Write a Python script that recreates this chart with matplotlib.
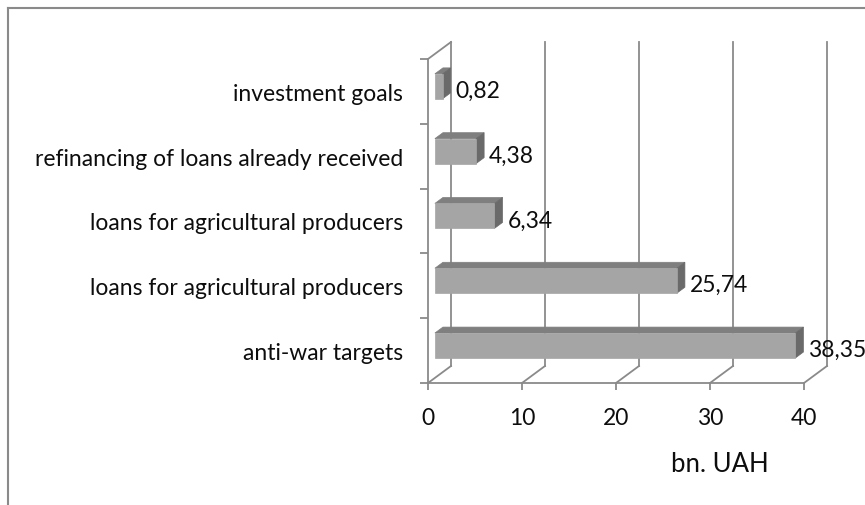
import matplotlib
matplotlib.use("Agg")
import matplotlib.pyplot as plt
from matplotlib.patches import Polygon
from matplotlib.lines import Line2D

categories = ["anti-war targets",
              "loans for agricultural producers",
              "loans for agricultural producers",
              "refinancing of loans already received",
              "investment goals"]
values = [38.35, 25.74, 6.34, 4.38, 0.82]
xticks = [0, 10, 20, 30, 40]
axis_title = "bn. UAH"

plt.rcParams['font.family'] = ['Lato', 'DejaVu Sans']

W, H = 865, 506
fig = plt.figure(figsize=(W / 100, H / 100), dpi=100)
ax = fig.add_axes([428 / W, (H - 384) / H, 376 / W, 324 / H])
ax.set_xlim(0, 40)
ax.set_ylim(0, 5)

grid_c = "#8a8a8a"
txt_c = "#0d0d0d"
# depth vector in data units
ddx = 23 / 9.4
ddy = 17 / 64.8

def P(v, c, d):
    return (v + d * ddx, c + d * ddy)

# back wall gridlines and floor slants
for v in xticks:
    ax.plot([P(v, 0, 1)[0]] * 2, [P(v, 0, 1)[1], P(v, 5, 1)[1]], color=grid_c, lw=1.3, clip_on=False, zorder=1)
    a, b = P(v, 0, 0), P(v, 0, 1)
    ax.plot([a[0], b[0]], [a[1], b[1]], color=grid_c, lw=1.3, clip_on=False, zorder=1)
# left wall top slant
a, b = P(0, 5, 0), P(0, 5, 1)
ax.plot([a[0], b[0]], [a[1], b[1]], color=grid_c, lw=1.3, clip_on=False, zorder=1)

front_c, top_c, side_c = "#a5a5a5", "#7f7f7f", "#6a6a6a"
h = 0.385
f0, f1 = 0.3, 0.65
for i, v in enumerate(values):
    yb = i + (1 - h) / 2
    yt = yb + h
    front = [P(0, yb, f0), P(v, yb, f0), P(v, yt, f0), P(0, yt, f0)]
    top = [P(0, yt, f0), P(v, yt, f0), P(v, yt, f1), P(0, yt, f1)]
    side = [P(v, yb, f0), P(v, yt, f0), P(v, yt, f1), P(v, yb, f1)]
    for poly, col in ((top, top_c), (side, side_c), (front, front_c)):
        ax.add_patch(Polygon(poly, closed=True, facecolor=col, edgecolor=col, lw=0.5, clip_on=False, zorder=3))
    lx, ly = P(v, yb + h / 2, f0)
    ax.annotate(f"{v:.2f}".replace(".", ","), xy=(v + f1 * ddx, ly), xytext=(3.5, -1.5),
                textcoords="offset points", ha="left", va="center_baseline", fontsize=16.5,
                color=txt_c, annotation_clip=False, zorder=4)

# axes styling
for s in ["top", "right"]:
    ax.spines[s].set_visible(False)
for s in ["left", "bottom"]:
    ax.spines[s].set_color(grid_c)
    ax.spines[s].set_linewidth(1.3)
ax.set_facecolor("none")

ax.set_xticks(xticks)
ax.set_xticklabels([str(t) for t in xticks])
ax.tick_params(axis="x", length=5, width=1.3, color=grid_c, pad=12, labelsize=16.5, labelcolor=txt_c)

ax.set_yticks([i + 0.5 for i in range(len(categories))])
ax.set_yticklabels(categories)
ax.tick_params(axis="y", which="major", length=0, pad=18, labelsize=16.5, labelcolor=txt_c)
ax.set_yticks(range(6), minor=True)
ax.tick_params(axis="y", which="minor", length=6, width=1.3, color=grid_c)

fig.text(720 / W, 1 - 465 / H, axis_title, ha="center", va="center", fontsize=18.5, color=txt_c)

# outer frame (top and left)
fig.add_artist(Line2D([8 / W, 1], [1 - 9 / H, 1 - 9 / H], color="#8a8a8a", lw=1.5, transform=fig.transFigure))
fig.add_artist(Line2D([8 / W, 8 / W], [0, 1 - 9 / H], color="#8a8a8a", lw=1.5, transform=fig.transFigure))

fig.savefig("out.png", dpi=100)
